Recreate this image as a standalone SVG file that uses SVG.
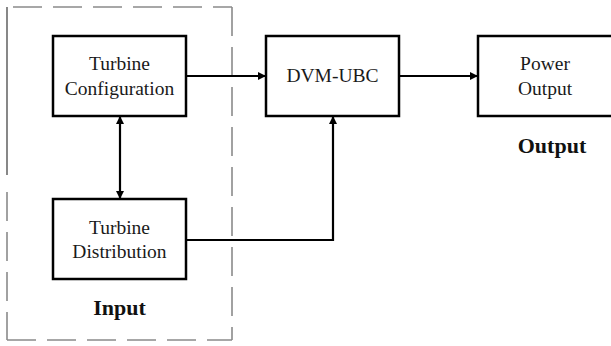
<svg xmlns="http://www.w3.org/2000/svg" width="611" height="346" viewBox="0 0 611 346">
<style>
.box{fill:#fff;stroke:#000;stroke-width:2.5}
.lbl{font-family:"Liberation Serif","Times New Roman",serif;font-size:19.5px;fill:#1a1a1a;text-anchor:middle}
.bold{font-family:"Liberation Serif","Times New Roman",serif;font-size:22px;font-weight:bold;fill:#111;text-anchor:middle}
.con{fill:none;stroke:#000;stroke-width:2.2}
.dash{fill:none;stroke:#8a8a8a;stroke-width:1.6;stroke-dasharray:29 11}
</style>
<defs>
<marker id="ah" viewBox="0 0 10 10" refX="10" refY="5" markerWidth="8" markerHeight="8" markerUnits="userSpaceOnUse" orient="auto-start-reverse">
<path d="M0,0 L10,5 L0,10 Z" fill="#000"/>
</marker>
</defs>
<rect width="611" height="346" fill="#fff"/>
<g id="input-group">
<line x1="13" y1="7" x2="232" y2="7" class="dash"/>
<line x1="232" y1="7" x2="232" y2="340" class="dash"/>
<line x1="7" y1="340" x2="232" y2="340" class="dash"/>
<line x1="7" y1="7" x2="7" y2="175" stroke="#6a6a6a" stroke-width="1.6"/>
<line x1="7" y1="192" x2="7" y2="340" class="dash"/>
<text x="119.5" y="315" class="bold">Input</text>
</g>
<g id="connectors">
<line x1="186" y1="76" x2="266" y2="76" class="con" marker-end="url(#ah)"/>
<line x1="399" y1="76" x2="478" y2="76" class="con" marker-end="url(#ah)"/>
<line x1="120" y1="116" x2="120" y2="199" class="con" marker-start="url(#ah)" marker-end="url(#ah)"/>
<path d="M186,240 H333 V116" class="con" marker-end="url(#ah)"/>
</g>
<g id="turbine-configuration">
<rect x="53" y="36" width="133" height="80" class="box"/>
<text x="119.5" y="70" class="lbl">Turbine</text>
<text x="119.5" y="95" class="lbl">Configuration</text>
</g>
<g id="turbine-distribution">
<rect x="53" y="199" width="133" height="80" class="box"/>
<text x="119.5" y="234" class="lbl">Turbine</text>
<text x="119.5" y="258" class="lbl">Distribution</text>
</g>
<g id="dvm-ubc">
<rect x="266" y="36" width="133" height="80" class="box"/>
<text x="332.5" y="82" class="lbl">DVM-UBC</text>
</g>
<g id="power-output">
<rect x="478" y="36" width="137" height="80" class="box"/>
<text x="545" y="70" class="lbl">Power</text>
<text x="545" y="95" class="lbl">Output</text>
<text x="552" y="153" class="bold">Output</text>
</g>
</svg>
